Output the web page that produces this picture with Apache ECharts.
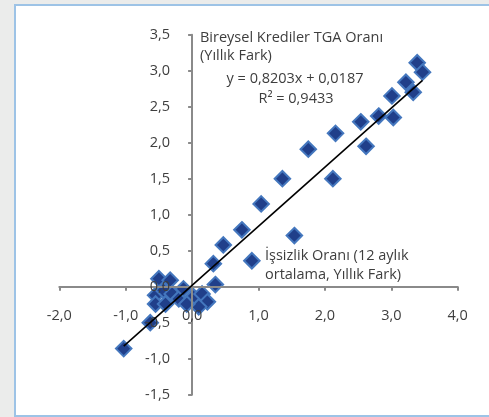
<!DOCTYPE html>
<html>
<head>
<meta charset="utf-8">
<script src="https://cdn.jsdelivr.net/npm/echarts@6/dist/echarts.min.js"></script>
<style>
  html, body { margin: 0; padding: 0; background: #EBECEB; }
  #frame { position: absolute; left: 14px; top: 4px; width: 520px; height: 409px; border: 2.5px solid #9DC3E6; background: #ffffff; }
  #chart { position: absolute; left: 0; top: 0; width: 489px; height: 417px; }
</style>
</head>
<body>
<div id="frame"></div>
<div id="chart"></div>
<script>
// Data (x: İşsizlik Oranı yıllık fark, y: Bireysel Krediler TGA Oranı yıllık fark)
var xValues = [3.39, 3.47, 3.22, 3.33, 3.01, 2.81, 3.03, 2.54, 2.16, 2.62, 1.75, 2.12, 1.36, 1.04, 0.75, 0.47, 1.54, 0.90, 0.32, 0.35,
               -0.50, -0.33, -0.55, -0.43, -0.30, -0.55, -0.40, -0.20, -0.13, 0.02, 0.15, 0.23, 0.10, -0.08, -0.63, -1.03];
var yValues = [3.11, 2.98, 2.84, 2.70, 2.65, 2.37, 2.35, 2.29, 2.13, 1.95, 1.91, 1.50, 1.50, 1.15, 0.79, 0.58, 0.71, 0.36, 0.32, 0.03,
               0.11, 0.09, -0.12, -0.05, -0.10, -0.24, -0.24, -0.17, -0.03, -0.14, -0.10, -0.21, -0.28, -0.24, -0.50, -0.86];
var trendSlope = [0.8203];
var trendIntercept = [0.0187];
var rSquared = [0.9433];
var xTicks = [-2, -1, 0, 1, 2, 3, 4];
var yTicks = [-1.5, -1, -0.5, 0, 0.5, 1, 1.5, 2, 2.5, 3, 3.5];
var yTitle = ["Bireysel Krediler TGA Oranı", "(Yıllık Fark)"];
var xTitle = ["İşsizlik Oranı (12 aylık", "ortalama, Yıllık Fark)"];

var points = xValues.map(function (x, i) { return [x, yValues[i]]; });
var xmin = Math.min.apply(null, xValues), xmax = Math.max.apply(null, xValues);
var trend = [[xmin, trendSlope[0] * xmin + trendIntercept[0]], [xmax, trendSlope[0] * xmax + trendIntercept[0]]];
function fmt(v) { return v.toFixed(1).replace('.', ','); }
function fmt4(v) { return v.toFixed(4).replace('.', ','); }

var GL = 59.3, GT = 34.7, GW = 398.4, GH = 360;
var xLo = xTicks[0], xHi = xTicks[xTicks.length - 1];
var yLo = yTicks[0], yHi = yTicks[yTicks.length - 1];
// shift axes so they cross at zero
var yAxisOffset = -((0 - xLo) / (xHi - xLo)) * GW;
var xAxisOffset = -((0 - yLo) / (yHi - yLo)) * GH;

var FONT = '"Open Sans"';
var FS = 14.5;
var TXT = '#3E3E3E';
var chart = echarts.init(document.getElementById('chart'), null, { renderer: 'canvas' });
var option = {
  backgroundColor: 'transparent',
  animation: false,
  grid: { left: GL, top: GT, width: GW, height: GH, containLabel: false },
  xAxis: {
    type: 'value', min: xLo, max: xHi, interval: 1, z: 5, position: 'bottom', offset: xAxisOffset,
    axisLine: { show: true, onZero: false, lineStyle: { color: '#8A8A8A', width: 2 } },
    axisTick: { show: true, length: 4, lineStyle: { color: '#8A8A8A', width: 2 } },
    splitLine: { show: false },
    axisLabel: { margin: 22, color: TXT, fontFamily: FONT, fontSize: FS, formatter: fmt }
  },
  yAxis: {
    type: 'value', min: yLo, max: yHi, interval: 0.5, z: 5, position: 'left', offset: yAxisOffset,
    axisLine: { show: true, onZero: false, lineStyle: { color: '#8A8A8A', width: 2 } },
    axisTick: { show: true, length: 4, lineStyle: { color: '#8A8A8A', width: 2 } },
    splitLine: { show: false },
    axisLabel: { margin: 22, color: TXT, fontFamily: FONT, fontSize: FS, formatter: fmt }
  },
  series: [
    {
      type: 'scatter', data: points, symbol: 'diamond', symbolSize: [15.5, 15.5], z: 2,
      itemStyle: { color: '#203F8A', borderColor: '#4477BE', borderWidth: 2, opacity: 1 }
    },
    {
      type: 'line', data: trend, symbol: 'none', z: 6,
      lineStyle: { color: '#000000', width: 1.6 }
    }
  ],
  graphic: [
    { type: 'text', left: 200, top: 30, z: 10, style: { text: yTitle[0], fill: TXT, font: FS + 'px ' + FONT } },
    { type: 'text', left: 200, top: 48, z: 10, style: { text: yTitle[1], fill: TXT, font: FS + 'px ' + FONT } },
    { type: 'text', x: 295, y: 79, z: 10, style: { text: 'y = ' + fmt4(trendSlope[0]) + 'x + ' + fmt4(trendIntercept[0]), fill: TXT, font: FS + 'px ' + FONT, textAlign: 'center', textVerticalAlign: 'middle' } },
    { type: 'text', x: 296, y: 99, z: 10, style: { text: 'R² = ' + fmt4(rSquared[0]), fill: TXT, font: FS + 'px ' + FONT, textAlign: 'center', textVerticalAlign: 'middle' } },
    { type: 'text', left: 265, top: 248, z: 10, style: { text: xTitle[0], fill: TXT, font: FS + 'px ' + FONT } },
    { type: 'text', left: 265, top: 267, z: 10, style: { text: xTitle[1], fill: TXT, font: FS + 'px ' + FONT } }
  ]
};
chart.setOption(option);
</script>
</body>
</html>
